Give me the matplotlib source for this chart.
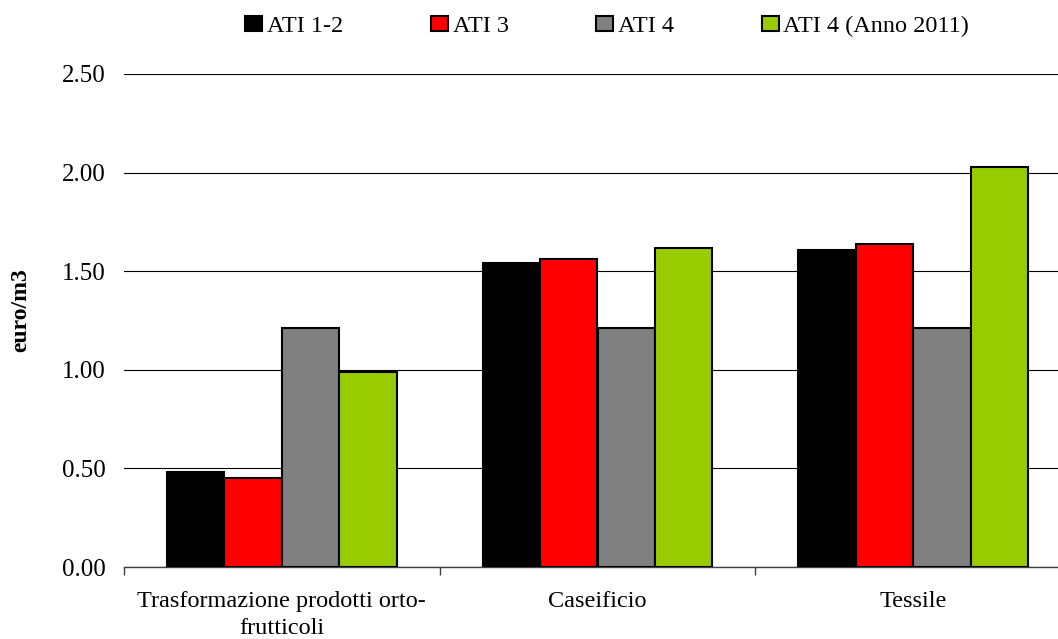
import numpy as np
import matplotlib.pyplot as plt
from matplotlib.ticker import FixedLocator

plt.rcParams['font.family'] = ['Liberation Serif', 'DejaVu Serif']

categories = ['Trasformazione prodotti orto-\nfrutticoli', 'Caseificio', 'Tessile']
series_names = ['ATI 1-2', 'ATI 3', 'ATI 4', 'ATI 4 (Anno 2011)']
ati_12 = [0.48, 1.54, 1.61]
ati_3 = [0.45, 1.56, 1.64]
ati_4 = [1.21, 1.21, 1.21]
ati_4_2011 = [0.99, 1.62, 2.03]
colors = ['#000000', '#ff0000', '#808080', '#99cc00']

fig = plt.figure(figsize=(10.58, 6.39), dpi=100)
ax = fig.add_axes([124 / 1058, 1 - 567 / 639, 947 / 1058, 493 / 639])

x = np.arange(len(categories))
width = 0.182
series = [ati_12, ati_3, ati_4, ati_4_2011]
for i, (vals, name, col) in enumerate(zip(series, series_names, colors)):
    ax.bar(x + (i - 1.5) * width, vals, width, color=col, edgecolor='black',
           linewidth=1.5, label=name, zorder=3)

ax.set_xlim(-0.5, 2.5)
ax.set_ylim(0, 2.5)
ax.set_yticks(np.arange(0, 2.51, 0.5))
ax.set_yticklabels([f'{v:.2f}' for v in np.arange(0, 2.51, 0.5)])
ax.yaxis.grid(True, color='black', linewidth=0.8, zorder=0)
ax.tick_params(axis='y', length=0, pad=13, labelsize=18)

ax.set_xticks(x)
ax.set_xticklabels(categories, linespacing=1.4)
ax.xaxis.set_minor_locator(FixedLocator([-0.5, 0.5, 1.5, 2.5]))
ax.tick_params(axis='x', which='major', length=0, pad=17, labelsize=17.5)
ax.tick_params(axis='x', which='minor', length=6, color='#404040', width=1)

for side in ['left', 'right', 'top']:
    ax.spines[side].set_visible(False)
ax.spines['bottom'].set_color('#404040')
ax.spines['bottom'].set_linewidth(1)

ax.set_ylabel('euro/m3', fontsize=17, fontweight='bold')
ax.yaxis.set_label_coords(-0.0975, 0.521)

fig.legend(loc='center', bbox_to_anchor=(0.574, 0.958), ncol=4, frameon=False,
           fontsize=17.5, handlelength=0.7, handleheight=0.58, handletextpad=0.2,
           columnspacing=3.6)

fig.savefig('out.png', dpi=100)
